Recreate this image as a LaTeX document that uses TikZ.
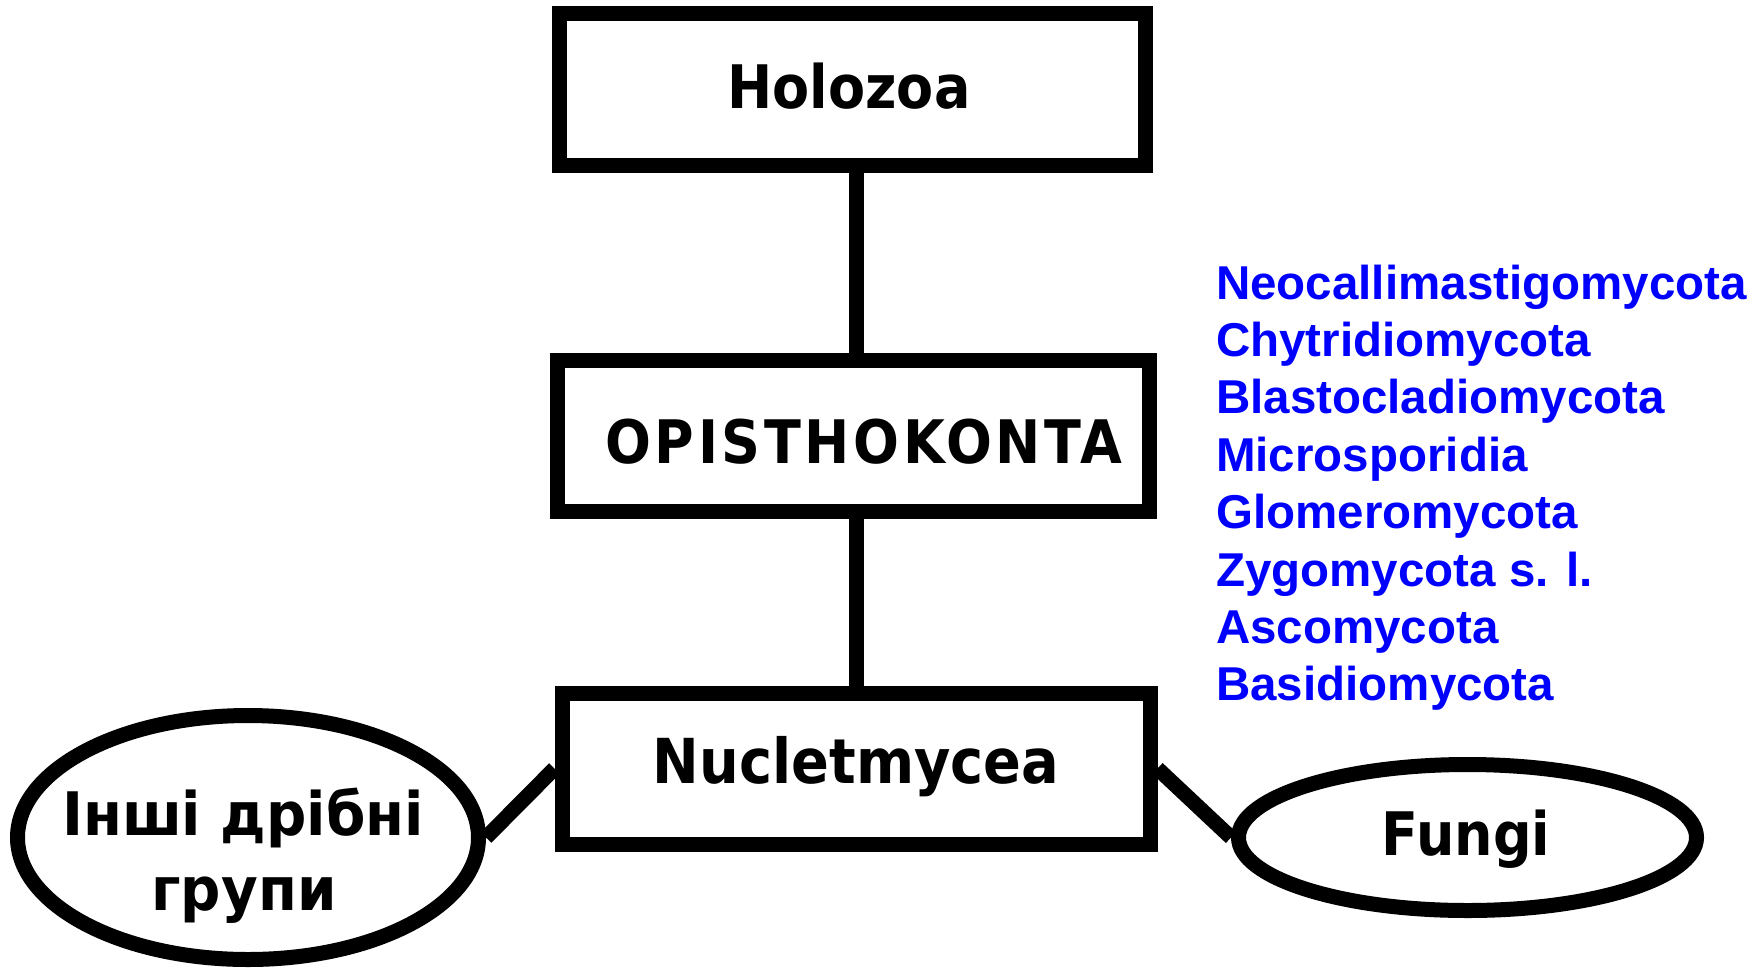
\documentclass[tikz,border=0pt]{standalone}
\usepackage{fontspec}
\setmainfont{DejaVu Sans}
\newfontfamily\boxfont[FakeStretch=0.9]{DejaVu Sans}
\newfontfamily\opfont[FakeStretch=0.9,LetterSpace=6]{DejaVu Sans}
\newfontfamily\ukfont[FakeStretch=0.94]{DejaVu Sans}
\newfontfamily\listfont{Liberation Sans}
\usetikzlibrary{shapes.geometric}
\definecolor{listblue}{RGB}{0,0,255}
\tikzset{
  taxbox/.style={draw=black, line width=15pt, rectangle, inner sep=0pt, fill=white},
  taxell/.style={draw=black, line width=15pt, ellipse, inner sep=0pt, fill=white},
  link/.style={draw=black, line width=15pt},
  listitem/.style={anchor=base west, inner sep=0pt, text=listblue,
     font=\listfont\bfseries\fontsize{47.5}{57}\selectfont}
}
\begin{document}
\begin{tikzpicture}[x=1pt,y=-1pt]
\useasboundingbox (0,0) rectangle (1764,970);
% boxes
\node[taxbox, minimum width=586pt, minimum height=152pt] (holo) at (852,89) {};
\node[inner sep=0pt, anchor=base, font=\boxfont\bfseries\fontsize{60}{72}\selectfont] (holot) at (849,108) {Holozoa};
\node[taxbox, minimum width=592pt, minimum height=151pt] (opis) at (853.5,436) {};
\node[inner sep=0pt, anchor=base, font=\opfont\bfseries\fontsize{60}{72}\selectfont] (opist) at (864,463) {OPISTHOKONTA};
\node[taxbox, minimum width=588pt, minimum height=151pt] (nuc) at (856,768.5) {};
\node[inner sep=0pt, anchor=base, font=\boxfont\bfseries\fontsize{62}{72}\selectfont] (nuct) at (856,783) {Nucletmycea};
% ellipses
\node[taxell, minimum width=461pt, minimum height=244pt] (left) at (248,837.5) {};
\node[inner sep=0pt, anchor=base, align=center, font=\ukfont\bfseries\fontsize{60}{75}\selectfont] (leftt) at (243,835) {Інші дрібні};
\node[inner sep=0pt, anchor=base, font=\ukfont\bfseries\fontsize{60}{75}\selectfont] (leftt2) at (244,910) {групи};
\node[taxell, minimum width=458pt, minimum height=146pt] (right) at (1467.5,837.5) {};
\node[inner sep=0pt, anchor=base, font=\boxfont\bfseries\fontsize{60}{72}\selectfont] (rightt) at (1466,855) {Fungi};
% connectors
\draw[link] (holo.south -| 856,0) -- (opis.north -| 856,0);
\draw[link] (opis.south -| 856,0) -- (nuc.north -| 856,0);
\draw[link] (left.east) -- (nuc.west);
\draw[link] (nuc.east) -- (right.west);
% blue list
\node[listitem] (l1) at (1216,299) {Neocallimastigomycota};
\node[listitem] (l2) at (1216,356.4) {Chytridiomycota};
\node[listitem] (l3) at (1216,413.8) {Blastocladiomycota};
\node[listitem] (l4) at (1216,471.2) {Microsporidia};
\node[listitem] (l5) at (1216,528.6) {Glomeromycota};
\node[listitem] (l6) at (1216,586) {Zygomycota s. l.};
\node[listitem] (l7) at (1216,643.4) {Ascomycota};
\node[listitem] (l8) at (1216,700.8) {Basidiomycota};
\end{tikzpicture}
\end{document}
